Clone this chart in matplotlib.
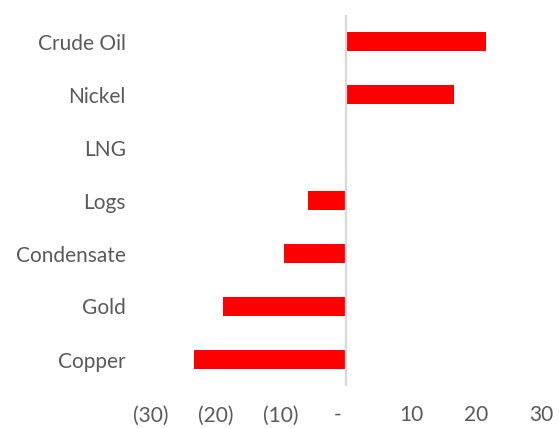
import matplotlib
matplotlib.use("Agg")
import matplotlib.pyplot as plt

categories = ["Crude Oil", "Nickel", "LNG", "Logs", "Condensate", "Gold", "Copper"]
values = [21.5, 16.6, 0.0, -5.8, -9.6, -19.0, -23.4]
xticks = [-30, -20, -10, 0, 10, 20, 30]
xticklabels = ["(30)", "(20)", "(10)", "-   ", "10", "20", "30"]

plt.rcParams['font.family'] = ['Lato', 'DejaVu Sans']

fig = plt.figure(figsize=(5.59, 4.28), dpi=100)
ax = fig.add_axes([151/559, 42/428, 390/559, 371/428])

ypos = list(range(len(categories)))[::-1]
ax.barh(ypos, values, height=0.345, color="#FF0000", zorder=2)
ax.axvline(0, color="#D9D9D9", lw=1.6, zorder=3)

ax.set_xlim(-30, 30)
ax.set_ylim(-0.5, len(categories) - 0.5)
ax.set_xticks(xticks)
ax.set_xticklabels(xticklabels)
ax.set_yticks(ypos)
ax.set_yticklabels(categories)

for s in ax.spines.values():
    s.set_visible(False)
ax.tick_params(axis='both', length=0, labelsize=15, colors="#595959")
ax.tick_params(axis='x', pad=14)
ax.tick_params(axis='y', pad=18)

fig.savefig("out.png", dpi=100)
